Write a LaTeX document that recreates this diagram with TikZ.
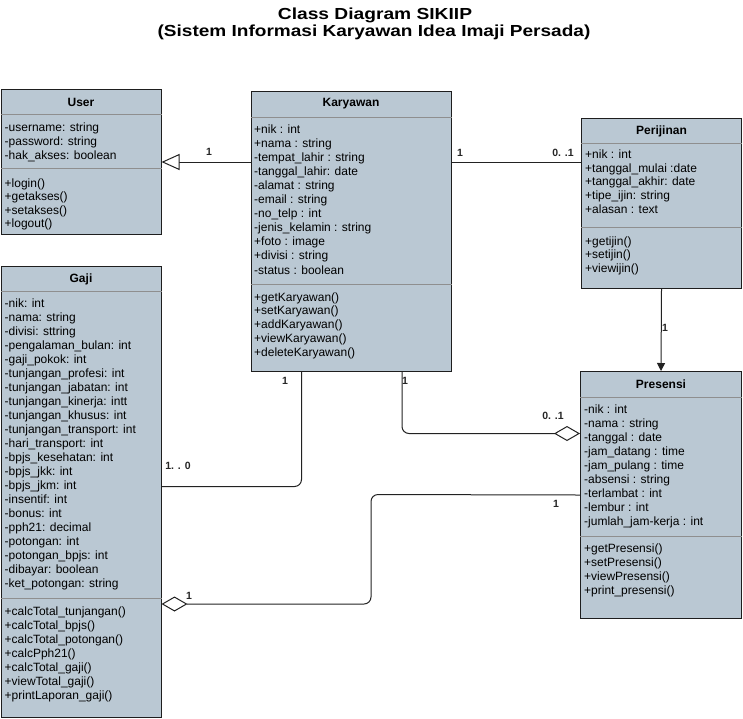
\documentclass[tikz,border=0pt]{standalone}
\usepackage{fontspec}
\usepackage{graphicx}
\setmainfont{Liberation Sans}
\usetikzlibrary{arrows.meta,calc}
\definecolor{boxfill}{HTML}{BAC8D3}
\definecolor{boxline}{HTML}{1E1E1E}
\definecolor{sepline}{HTML}{8F8F8F}
\definecolor{conn}{HTML}{222222}
\begin{document}
\begin{tikzpicture}[x=1pt,y=-1pt,
  classbox/.style={draw=boxline, fill=boxfill, line width=1pt, anchor=north west, inner sep=0pt},
  classname/.style={font=\bfseries\fontsize{12}{14}\selectfont, inner sep=0pt},
  member/.style={anchor=base west, inner sep=0pt, font=\fontsize{12}{14}\selectfont},
  sepl/.style={draw=sepline, line width=0.8pt},
  conn/.style={draw=conn, line width=1pt},
  mult/.style={font=\bfseries\fontsize{10.5}{12}\selectfont, inner sep=0pt, text=black!85},
  titleline/.style={font=\bfseries\fontsize{16}{18}\selectfont, anchor=base, inner sep=0pt}
]
\path[fill=white, use as bounding box] (0,0) rectangle (743,718);

% title
\node[titleline] (title1) at (375,19) {\scalebox{1.2}[1]{Class Diagram SIKIIP}};
\node[titleline] (title2) at (374,36.7) {\scalebox{1.19}[1]{(Sistem Informasi Karyawan Idea Imaji Persada)}};

% ---------- User ----------
\node[classbox, minimum width=160pt, minimum height=145pt] (user) at (0.5,89) {};
\node[classname] (user-t) at ($(user.north)+(0,13)$) {User};
\draw[sepl] ($(user.north west)+(0,25)$) -- ($(user.north east)+(0,25)$);
\draw[sepl] ($(user.north west)+(0,79)$) -- ($(user.north east)+(0,79)$);
\foreach \t [count=\i from 0] in {-username: string,-password: string,-hak\_akses: boolean}
  \node[member] (user-a\i) at (4.5,{131.5+14*\i}) {\t};
\foreach \t [count=\i from 0] in {+login(),+getakses(),+setakses(),+logout()}
  \node[member] (user-m\i) at (4.5,{187+13.5*\i}) {\t};

% ---------- Karyawan ----------
\node[classbox, minimum width=200pt, minimum height=280pt] (kar) at (250.5,91) {};
\node[classname] (kar-t) at ($(kar.north)+(0,13)$) {Karyawan};
\draw[sepl] ($(kar.north west)+(0,26)$) -- ($(kar.north east)+(0,26)$);
\draw[sepl] ($(kar.north west)+(0,193)$) -- ($(kar.north east)+(0,193)$);
\foreach \t [count=\i from 0] in {+nik : int,+nama : string,-tempat\_lahir : string,-tanggal\_lahir: date,-alamat : string,-email : string,-no\_telp : int,-jenis\_kelamin : string,+foto : image,+divisi : string,-status : boolean}
  \node[member] (kar-a\i) at (254,{133+14.1*\i}) {\t};
\foreach \t [count=\i from 0] in {+getKaryawan(),+setKaryawan(),+addKaryawan(),+viewKaryawan(),+deleteKaryawan()}
  \node[member] (kar-m\i) at (254,{301+13.8*\i}) {\t};

% ---------- Perijinan ----------
\node[classbox, minimum width=160pt, minimum height=170pt] (per) at (581,118) {};
\node[classname] (per-t) at ($(per.north)+(0,13)$) {Perijinan};
\draw[sepl] ($(per.north west)+(0,25.5)$) -- ($(per.north east)+(0,25.5)$);
\draw[sepl] ($(per.north west)+(0,109)$) -- ($(per.north east)+(0,109)$);
\foreach \t [count=\i from 0] in {+nik : int,+tanggal\_mulai :date,+tanggal\_akhir: date,+tipe\_ijin: string,+alasan : text}
  \node[member] (per-a\i) at (585,{158.5+13.7*\i}) {\t};
\foreach \t [count=\i from 0] in {+getijin(),+setijin(),+viewijin()}
  \node[member] (per-m\i) at (585,{245.5+13.4*\i}) {\t};

% ---------- Gaji ----------
\node[classbox, minimum width=160pt, minimum height=451pt] (gaji) at (0.5,266) {};
\node[classname] (gaji-t) at ($(gaji.north)+(0,13)$) {Gaji};
\draw[sepl] ($(gaji.north west)+(0,25.5)$) -- ($(gaji.north east)+(0,25.5)$);
\draw[sepl] ($(gaji.north west)+(0,332)$) -- ($(gaji.north east)+(0,332)$);
\foreach \t [count=\i from 0] in {-nik: int,-nama: string,-divisi: sttring,-pengalaman\_bulan: int,-gaji\_pokok: int,-tunjangan\_profesi: int,-tunjangan\_jabatan: int,-tunjangan\_kinerja: intt,-tunjangan\_khusus: int,-tunjangan\_transport: int,-hari\_transport: int,-bpjs\_kesehatan: int,-bpjs\_jkk: int,-bpjs\_jkm: int,-insentif: int,-bonus: int,-pph21: decimal,-potongan: int,-potongan\_bpjs: int,-dibayar: boolean,-ket\_potongan: string}
  \node[member] (gaji-a\i) at (4.5,{307.5+14*\i}) {\t};
\foreach \t [count=\i from 0] in {+calcTotal\_tunjangan(),+calcTotal\_bpjs(),+calcTotal\_potongan(),+calcPph21(),+calcTotal\_gaji(),+viewTotal\_gaji(),+printLaporan\_gaji()}
  \node[member] (gaji-m\i) at (4.5,{615+14*\i}) {\t};

% ---------- Presensi ----------
\node[classbox, minimum width=161pt, minimum height=247pt] (pre) at (580,371) {};
\node[classname] (pre-t) at ($(pre.north)+(0,13)$) {Presensi};
\draw[sepl] ($(pre.north west)+(0,26)$) -- ($(pre.north east)+(0,26)$);
\draw[sepl] ($(pre.north west)+(0,165)$) -- ($(pre.north east)+(0,165)$);
\foreach \t [count=\i from 0] in {-nik : int,-nama : string,-tanggal : date,-jam\_datang : time,-jam\_pulang : time,-absensi : string,-terlambat : int,-lembur : int,-jumlah\_jam-kerja : int}
  \node[member] (pre-a\i) at (584,{413+14.08*\i}) {\t};
\foreach \t [count=\i from 0] in {+getPresensi(),+setPresensi(),+viewPresensi(),+print\_presensi()}
  \node[member] (pre-m\i) at (584,{552.5+14*\i}) {\t};

% ---------- connectors ----------
% generalisation Karyawan -> User
\draw[conn, -{Triangle[length=18pt,width=16pt,fill=white,line width=1pt]}]
  (kar.west |- user.east) -- (user.east);
\node[mult] (l1) at (209,152) {1};

% Karyawan -- Perijinan
\draw[conn] (kar.east |- user.east) -- (per.west |- user.east);
\node[mult] (l2) at (460,153) {1};
\node[mult] (l3) at (563,153) {0. .1};

% Perijinan -> Presensi
\draw[conn, -{Triangle[length=8pt,width=8pt]}] (per.south) -- (pre.north);
\node[mult] (l4) at (665,328) {1};

% Karyawan -- Presensi (aggregation)
\draw[conn, rounded corners=7pt, -{Diamond[length=26pt,width=15pt,fill=white,line width=1pt]}]
  ([xshift=51pt]kar.south) |- ([yshift=61.5pt]pre.west);
\node[mult] (l5) at (405,381) {1};
\node[mult] (l6) at (553,416) {0. .1};

% Karyawan -- Gaji
\draw[conn, rounded corners=7pt] ([xshift=-49.5pt]kar.south) |- ([yshift=5.5pt]gaji.east);
\node[mult] (l7) at (285,381) {1};
\node[mult] (l8) at (178,466) {1. . 0};

% Presensi -- Gaji (aggregation)
\coordinate (b1) at (371,494.5);
\coordinate (b2) at (371,604);
\draw[conn, rounded corners=7pt, -{Diamond[length=26pt,width=15pt,fill=white,line width=1pt]}]
  (pre.west) -- (b1) -- (b2) -- (gaji.east |- b2);
\node[mult] (l9) at (556,504) {1};
\node[mult] (l10) at (189,596) {1};
\end{tikzpicture}
\end{document}
